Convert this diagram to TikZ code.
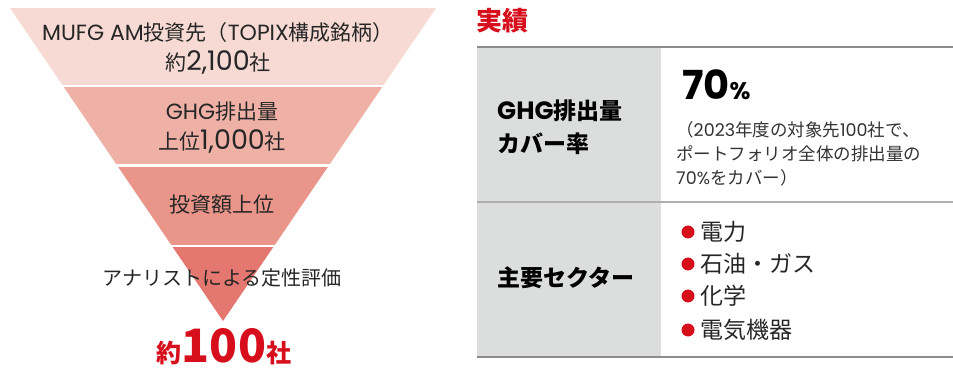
\documentclass[tikz,border=0pt]{standalone}
\usepackage{fontspec}
\setmainfont{Noto Sans CJK JP}
\newfontfamily\latfont{Poppins}
\newcommand{\en}[1]{{\latfont #1}}
\newcommand{\digits}[1]{{\latfont\fontsize{27}{30}\selectfont #1}}
\usepackage{tikz}
\usetikzlibrary{positioning}
\definecolor{bandA}{RGB}{246,218,211}
\definecolor{bandB}{RGB}{239,177,166}
\definecolor{bandC}{RGB}{233,149,138}
\definecolor{bandD}{RGB}{228,119,111}
\definecolor{mured}{RGB}{215,14,28}
\definecolor{cellgray}{RGB}{220,221,221}
\definecolor{rulegray}{RGB}{140,140,140}
\tikzset{
    bandtext/.style={text=black!85, font=\fontsize{21}{30}\selectfont, align=center, inner sep=0pt},
    head/.style={font=\bfseries\fontsize{23}{33}\selectfont, align=left, anchor=west, inner sep=0pt},
    note/.style={text=black!80, font=\fontsize{17.5}{24}\selectfont, align=left, anchor=west, inner sep=0pt},
    item/.style={text=black!85, font=\fontsize{23}{23}\selectfont, anchor=west, inner sep=0pt},
    bullet/.style={circle, fill=mured, minimum size=13pt, inner sep=0pt},
    tablerule/.style={draw=rulegray, line width=1.5pt}
}

\begin{document}
\begin{tikzpicture}[x=1pt, y=-1pt]
    \useasboundingbox (0,0) rectangle (953,371);

    % funnel
    \begin{scope}
        \clip (10,8) -- (436,8) -- (223,321) -- cycle;
        \fill[bandA] (0,8) rectangle (450,85);
        \fill[bandB] (0,87) rectangle (450,164);
        \fill[bandC] (0,167) rectangle (450,245);
        \fill[bandD] (0,247) rectangle (450,330);
    \end{scope}

    % Nodes
    \node[bandtext] (all) at (218,48) {{\fontsize{22}{30}\selectfont\en{MUFG AM}}投資先（{\fontsize{22}{30}\selectfont\en{TOPIX}}構成銘柄）\\約\digits{2,100}社};
    \node[bandtext] (ghg) at (222,127.5) {{\fontsize{22}{30}\selectfont\en{GHG}}排出量\\上位\digits{1,000}社};
    \node[bandtext] (inv) at (222,205) {投資額上位};
    \node[bandtext, font=\fontsize{20}{30}\selectfont] (ana) at (222,278) {アナリストによる定性評価};
    \node[text=mured, font=\bfseries, anchor=base, inner sep=0pt] (res) at (224,362)
        {{\fontsize{25}{25}\selectfont 約}{\fontsize{46}{46}\selectfont 100}{\fontsize{25}{25}\selectfont 社}};

    % table
    \fill[cellgray] (477,47) rectangle (661,357);
    \draw[tablerule] (477,47) -- (953,47);
    \draw[tablerule, draw=rulegray!70] (477,202) -- (953,202);
    \draw[tablerule] (477,357) -- (953,357);

    \node[text=mured, font=\bfseries\fontsize{26}{26}\selectfont, anchor=west, inner sep=0pt] (title) at (476,21) {実績};
    \node[head] (cover) at (497,127) {{\fontsize{25}{33}\selectfont\en{GHG}}排出量\\カバー率};
    \node[anchor=base west, inner sep=0pt, font=\bfseries\latfont] (pct) at (682,100)
        {{\fontsize{40}{40}\selectfont 70}{\fontsize{24}{24}\selectfont\%}};
    \node[note] (pctnote) at (676,154) {（\en{2023}年度の対象先\en{100}社で、\\ポートフォリオ全体の排出量の\\\en{70\%}をカバー）};
    \node[head] (sector) at (497,278) {主要セクター};

    % sectors
    \foreach \y/\t [count=\i] in {232/電力, 264/石油・ガス, 296/化学, 330/電気機器} {
        \node[bullet] (b\i) at (688,\y) {};
        \node[item, right=6pt of b\i] (s\i) {\t};
    }
\end{tikzpicture}
\end{document}
